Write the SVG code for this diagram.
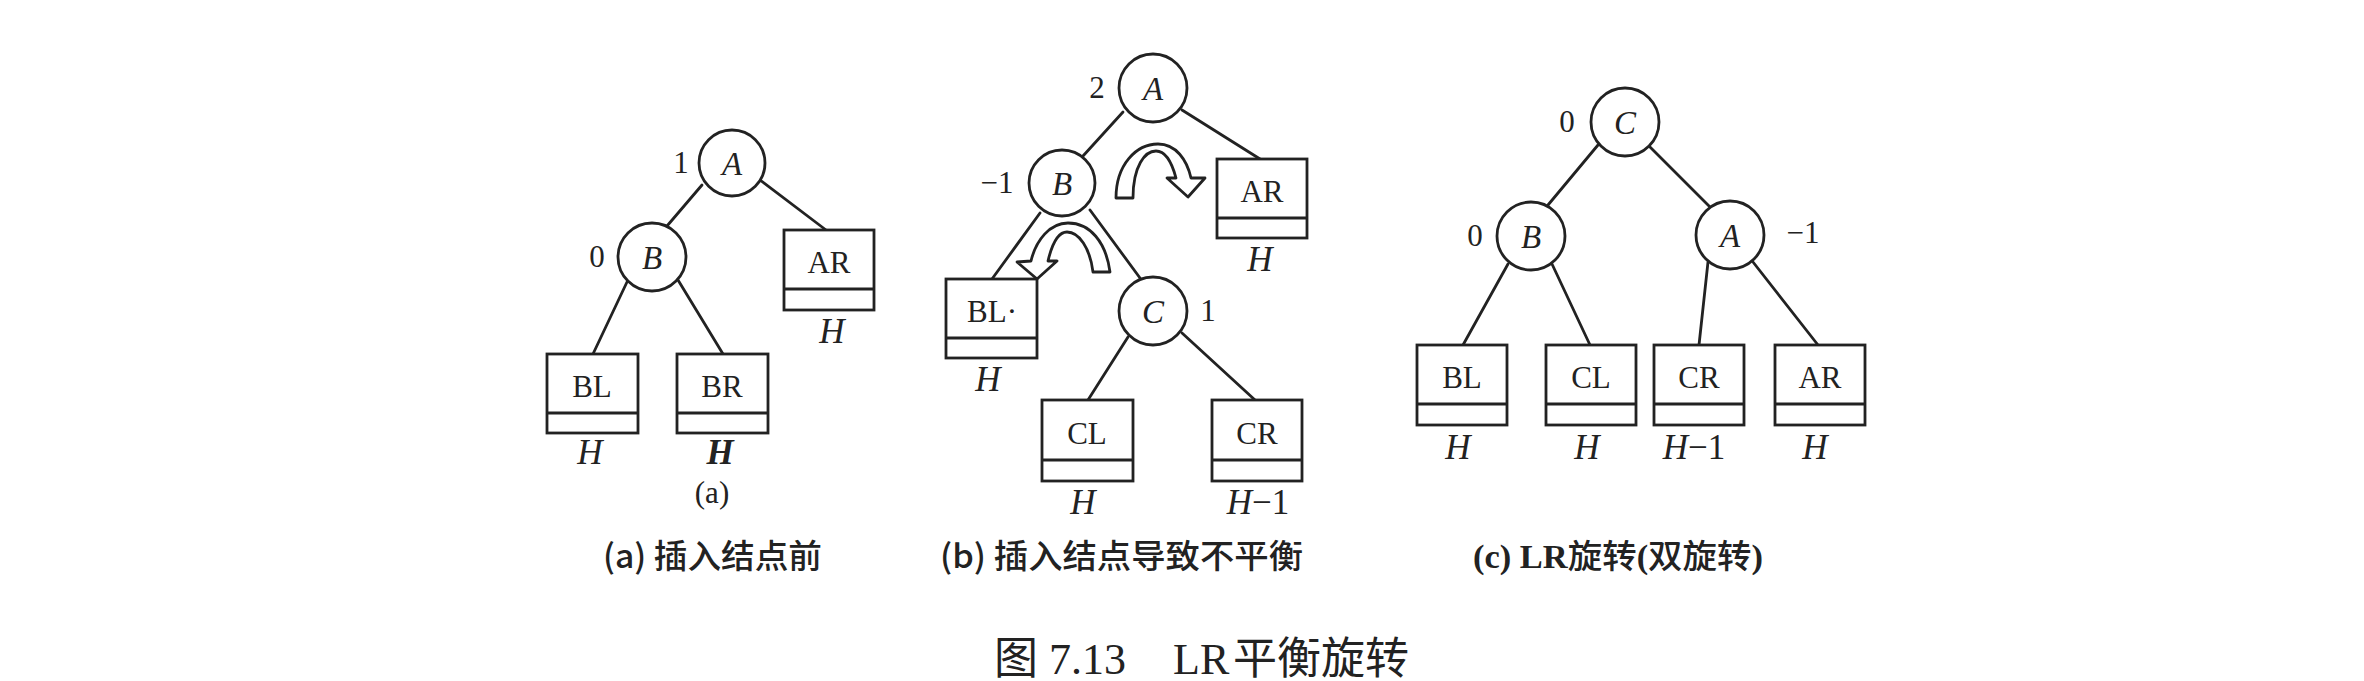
<svg xmlns="http://www.w3.org/2000/svg" width="2364" height="681" viewBox="0 0 2364 681">
<style>
.ln{stroke:#222;stroke-width:2.8;fill:none;stroke-linecap:round}
.nd{fill:#fff;stroke:#222;stroke-width:2.8}
.bx{fill:#fff;stroke:#222;stroke-width:2.8}
.dv{stroke:#222;stroke-width:2.8}
.rot{fill:#fff;stroke:#222;stroke-width:2.8;stroke-linejoin:round}
.nl{font-family:"Liberation Serif",serif;font-style:italic;font-size:33px;fill:#222;text-anchor:middle}
.bl{font-family:"Liberation Serif",serif;font-size:31px;fill:#222;text-anchor:middle}
.bf{font-family:"Liberation Serif",serif;font-size:31px;fill:#222;text-anchor:middle}
.h{font-family:"Liberation Serif",serif;font-style:italic;font-size:35px;fill:#222;text-anchor:middle}
.cap{font-family:"Noto Sans CJK SC","Liberation Sans",sans-serif;font-size:33px;font-weight:500;fill:#222}
.capc{font-family:"Liberation Serif","Noto Sans CJK SC",serif;font-size:33px;font-weight:500;fill:#222}
.ttl{font-family:"Liberation Serif","Noto Sans CJK SC",serif;font-size:44px;fill:#222}
</style>
<rect width="2364" height="681" fill="#fff"/>

<g id="connectors">
  <!-- (a) -->
  <line class="ln" x1="702" y1="185" x2="667" y2="226"/>
  <line class="ln" x1="760" y1="180" x2="826" y2="230"/>
  <line class="ln" x1="627" y1="282" x2="593" y2="354"/>
  <line class="ln" x1="678" y1="280" x2="723" y2="354"/>
  <!-- (b) -->
  <line class="ln" x1="1123" y1="112" x2="1083" y2="156"/>
  <line class="ln" x1="1182" y1="110" x2="1260" y2="159"/>
  <line class="ln" x1="1040" y1="213" x2="992" y2="279"/>
  <line class="ln" x1="1090" y1="210" x2="1140" y2="278"/>
  <line class="ln" x1="1128" y1="337" x2="1088" y2="400"/>
  <line class="ln" x1="1182" y1="333" x2="1255" y2="400"/>
  <!-- (c) -->
  <line class="ln" x1="1598" y1="145" x2="1548" y2="205"/>
  <line class="ln" x1="1650" y1="147" x2="1710" y2="207"/>
  <line class="ln" x1="1508" y1="264" x2="1463" y2="345"/>
  <line class="ln" x1="1552" y1="264" x2="1590" y2="345"/>
  <line class="ln" x1="1708" y1="262" x2="1699" y2="345"/>
  <line class="ln" x1="1753" y1="262" x2="1818" y2="345"/>
</g>

<!-- rotation arrows in (b) -->
<g id="rotation-arrows">
  <path class="rot" d="M1116 198 C1116 165 1136 144 1158 144 C1176 144 1187 160 1191 178 L1205 178 L1188 197 L1167 178 L1176 178 C1172 163 1166 151 1156 151 C1145 151 1133 166 1133 198 Z"/>
  <path class="rot" d="M1110 272 C1106 242 1090 223 1068 223 C1050 223 1036 240 1031 261 L1017 262 L1037 279 L1057 261 L1048 261 C1052 244 1058 232 1067 232 C1079 232 1090 248 1093 272 Z"/>
</g>

<!-- (a) tree -->
<g id="a-A"><circle class="nd" cx="732" cy="163" r="33"/><text class="nl" x="732" y="175">A</text><text class="bf" x="681" y="173">1</text></g>
<g id="a-B"><circle class="nd" cx="652" cy="257" r="34"/><text class="nl" x="652" y="269">B</text><text class="bf" x="597" y="267">0</text></g>
<g id="a-AR"><rect class="bx" x="784" y="230" width="90" height="80"/><line class="dv" x1="784" y1="289" x2="874" y2="289"/><text class="bl" x="829" y="273">AR</text><text class="h" x="832" y="343">H</text></g>
<g id="a-BL"><rect class="bx" x="547" y="354" width="91" height="79"/><line class="dv" x1="547" y1="413" x2="638" y2="413"/><text class="bl" x="592" y="397">BL</text><text class="h" x="590" y="464">H</text></g>
<g id="a-BR"><rect class="bx" x="677" y="354" width="91" height="79"/><line class="dv" x1="677" y1="413" x2="768" y2="413"/><text class="bl" x="722" y="397">BR</text><text class="h" x="720" y="464" font-weight="bold">H</text></g>
<text class="bf" x="712" y="503" font-size="30">(a)</text>

<!-- (b) tree -->
<g id="b-A"><circle class="nd" cx="1153" cy="88" r="34"/><text class="nl" x="1153" y="100">A</text><text class="bf" x="1097" y="98">2</text></g>
<g id="b-B"><circle class="nd" cx="1062" cy="183" r="33"/><text class="nl" x="1062" y="195">B</text><text class="bf" x="997" y="193">−1</text></g>
<g id="b-AR"><rect class="bx" x="1217" y="159" width="90" height="79"/><line class="dv" x1="1217" y1="218" x2="1307" y2="218"/><text class="bl" x="1262" y="202">AR</text><text class="h" x="1260" y="271">H</text></g>
<g id="b-BL"><rect class="bx" x="946" y="279" width="91" height="79"/><line class="dv" x1="946" y1="338" x2="1037" y2="338"/><text class="bl" x="992" y="322">BL·</text><text class="h" x="988" y="391">H</text></g>
<g id="b-C"><circle class="nd" cx="1153" cy="311" r="34"/><text class="nl" x="1153" y="323">C</text><text class="bf" x="1208" y="321">1</text></g>
<g id="b-CL"><rect class="bx" x="1042" y="400" width="91" height="81"/><line class="dv" x1="1042" y1="460" x2="1133" y2="460"/><text class="bl" x="1087" y="444">CL</text><text class="h" x="1083" y="514">H</text></g>
<g id="b-CR"><rect class="bx" x="1212" y="400" width="90" height="81"/><line class="dv" x1="1212" y1="460" x2="1302" y2="460"/><text class="bl" x="1257" y="444">CR</text><text class="h" x="1258" y="514">H<tspan font-style="normal">−1</tspan></text></g>

<!-- (c) tree -->
<g id="c-C"><circle class="nd" cx="1625" cy="122" r="34"/><text class="nl" x="1625" y="134">C</text><text class="bf" x="1567" y="132">0</text></g>
<g id="c-B"><circle class="nd" cx="1531" cy="236" r="34"/><text class="nl" x="1531" y="248">B</text><text class="bf" x="1475" y="246">0</text></g>
<g id="c-A"><circle class="nd" cx="1730" cy="235" r="34"/><text class="nl" x="1730" y="247">A</text><text class="bf" x="1803" y="243">−1</text></g>
<g id="c-BL"><rect class="bx" x="1417" y="345" width="90" height="80"/><line class="dv" x1="1417" y1="404" x2="1507" y2="404"/><text class="bl" x="1462" y="388">BL</text><text class="h" x="1458" y="459">H</text></g>
<g id="c-CL"><rect class="bx" x="1546" y="345" width="90" height="80"/><line class="dv" x1="1546" y1="404" x2="1636" y2="404"/><text class="bl" x="1591" y="388">CL</text><text class="h" x="1587" y="459">H</text></g>
<g id="c-CR"><rect class="bx" x="1654" y="345" width="90" height="80"/><line class="dv" x1="1654" y1="404" x2="1744" y2="404"/><text class="bl" x="1699" y="388">CR</text><text class="h" x="1694" y="459">H<tspan font-style="normal">−1</tspan></text></g>
<g id="c-AR"><rect class="bx" x="1775" y="345" width="90" height="80"/><line class="dv" x1="1775" y1="404" x2="1865" y2="404"/><text class="bl" x="1820" y="388">AR</text><text class="h" x="1815" y="459">H</text></g>

<!-- captions -->
<text class="cap" x="603" y="568" textLength="219" lengthAdjust="spacingAndGlyphs">(a) 插入结点前</text>
<text class="cap" x="940" y="568" textLength="363" lengthAdjust="spacingAndGlyphs">(b) 插入结点导致不平衡</text>
<text class="capc" x="1473" y="568" textLength="290" lengthAdjust="spacingAndGlyphs"><tspan font-weight="bold">(c) LR</tspan>旋转<tspan font-weight="bold">(</tspan>双旋转<tspan font-weight="bold">)</tspan></text>
<text class="ttl" y="674"><tspan x="994">图</tspan><tspan x="1049">7.13</tspan><tspan x="1173">LR</tspan><tspan x="1233">平衡旋转</tspan></text>
</svg>
